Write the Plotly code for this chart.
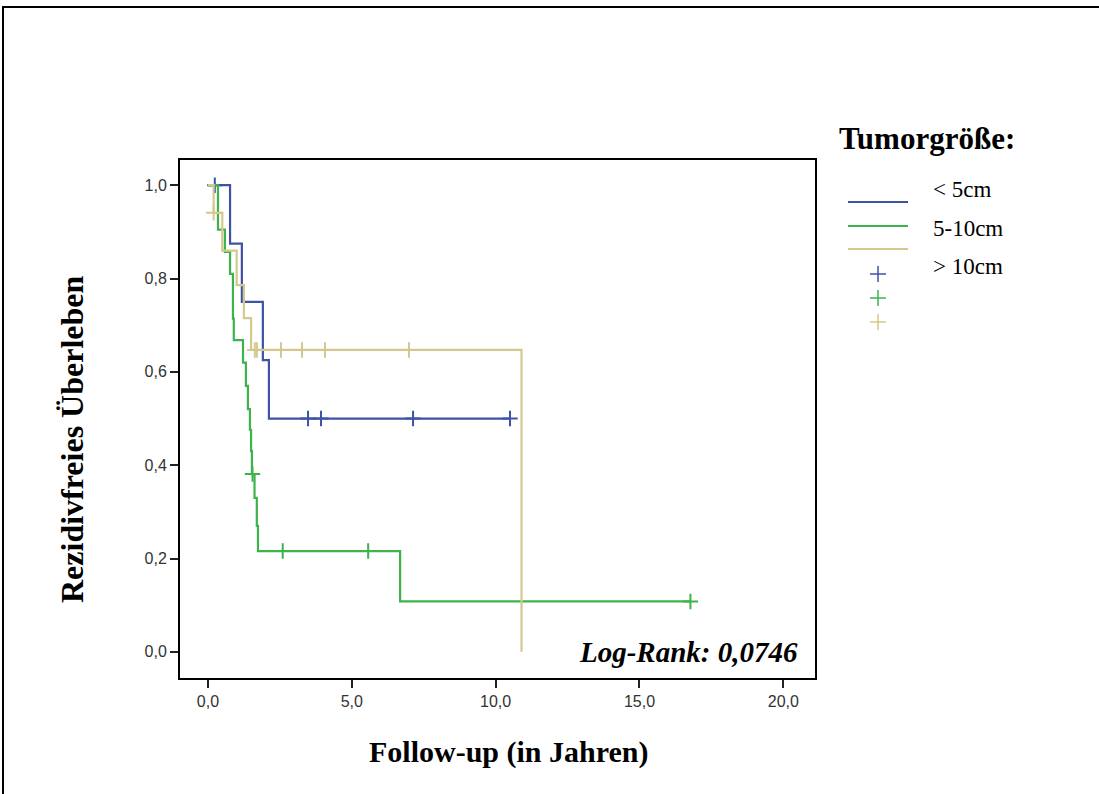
import plotly.graph_objects as go

# Kaplan-Meier estimates: event times (years) and survival level after each step
groups = ["< 5cm", "5-10cm", "> 10cm"]
colors = ["#3f52a6", "#3cb44b", "#d3c98e"]

blue_t = [0.0, 0.77, 1.18, 1.91, 2.12]
blue_s = [1.0, 0.875, 0.75, 0.625, 0.5]
blue_end = 10.5
blue_cens = [0.24, 3.48, 3.93, 7.13, 10.5]

green_t = [0.0, 0.35, 0.59, 0.77, 0.87, 0.90, 1.22, 1.32, 1.39, 1.46, 1.50,
           1.53, 1.62, 1.70, 1.74, 6.68]
green_s = [1.0, 0.905, 0.857, 0.81, 0.714, 0.668, 0.62, 0.57, 0.52, 0.476, 0.43,
           0.381, 0.33, 0.27, 0.216, 0.108]
green_end = 16.77
green_cens = [1.55, 2.6, 5.57, 16.77]

tan_t = [0.0, 0.2, 0.5, 1.0, 1.25, 1.5, 10.9]
tan_s = [1.0, 0.941, 0.86, 0.786, 0.715, 0.647, 0.0]
tan_end = 10.9
tan_cens = [0.2, 1.63, 1.7, 2.54, 3.27, 4.07, 6.99]

x_ticks = [0, 5, 10, 15, 20]
y_ticks = [0, 0.2, 0.4, 0.6, 0.8, 1.0]

series = [
    (blue_t, blue_s, blue_end, blue_cens),
    (green_t, green_s, green_end, green_cens),
    (tan_t, tan_s, tan_end, tan_cens),
]


def level_at(ts, ss, t):
    val = ss[0]
    for ti, si in zip(ts, ss):
        if ti <= t:
            val = si
    return val


fig = go.Figure()
for name, col, (ts, ss, end, cens) in zip(groups, colors, series):
    xs = list(ts)
    ys = list(ss)
    if end > xs[-1]:
        xs.append(end)
        ys.append(ys[-1])
    fig.add_trace(go.Scatter(x=xs, y=ys, mode="lines", line_shape="hv",
                             line=dict(color=col, width=2.2), name=name,
                             showlegend=False, hoverinfo="skip"))
    fig.add_trace(go.Scatter(x=cens, y=[level_at(ts, ss, c) for c in cens],
                             mode="markers",
                             marker=dict(symbol="cross-thin", size=11,
                                         line=dict(color=col, width=2)),
                             showlegend=False, hoverinfo="skip"))

L, R, T, B = 180, 815, 160, 678
W, H = 1099, 794
pw, ph = R - L, B - T


def px(x):
    return (x - L) / pw


def py(y):
    return (B - y) / ph


shapes = [
    # outer frame
    dict(type="rect", xref="paper", yref="paper", x0=px(3), x1=px(1110),
         y0=py(810), y1=py(7), line=dict(color="black", width=2)),
]
annotations = []

# legend block
leg_items = [(202, 189), (226, 228), (249, 266)]
for (ly, ty), col, name in zip(leg_items, colors, groups):
    shapes.append(dict(type="line", xref="paper", yref="paper",
                       x0=px(848), x1=px(908), y0=py(ly), y1=py(ly),
                       line=dict(color=col, width=2)))
    annotations.append(dict(x=px(931), y=py(ty), xref="paper", yref="paper",
                            text=name, showarrow=False, xanchor="left",
                            yanchor="middle",
                            font=dict(family="Liberation Serif", size=23,
                                      color="black")))
for cy, col in zip([274, 298, 322], colors):
    for (x0, x1, y0, y1) in [(870, 886, cy, cy), (878, 878, cy - 8, cy + 8)]:
        shapes.append(dict(type="line", xref="paper", yref="paper",
                           x0=px(x0), x1=px(x1), y0=py(y0), y1=py(y1),
                           line=dict(color=col, width=1.5)))

annotations += [
    dict(x=px(927), y=py(138), xref="paper", yref="paper",
         text="<b>Tumorgröße:</b>", showarrow=False, xanchor="center",
         yanchor="middle",
         font=dict(family="Liberation Serif", size=31, color="black")),
    dict(x=px(800), y=py(652), xref="paper", yref="paper",
         text="<b><i>Log-Rank: 0,0746</i></b>", showarrow=False,
         xanchor="right", yanchor="middle",
         font=dict(family="Liberation Serif", size=29, color="black")),
    dict(x=px(508), y=py(752), xref="paper", yref="paper",
         text="<b>Follow-up (in Jahren)</b>", showarrow=False,
         xanchor="center", yanchor="middle",
         font=dict(family="Liberation Serif", size=30, color="black")),
    dict(x=px(72), y=py(439), xref="paper", yref="paper",
         text="<b>Rezidivfreies Überleben</b>", showarrow=False, textangle=-90,
         xanchor="center", yanchor="middle",
         font=dict(family="Liberation Serif", size=32, color="black")),
]

fig.update_layout(
    width=W, height=H,
    margin=dict(l=L, r=W - R, t=T, b=H - B),
    paper_bgcolor="white", plot_bgcolor="white",
    separators=", ",
    shapes=shapes, annotations=annotations,
    showlegend=False,
)
axis_common = dict(showgrid=False, zeroline=False, showline=True,
                   linecolor="black", linewidth=2, mirror=True,
                   ticks="outside", ticklen=8, tickwidth=2, tickcolor="#222",
                   tickformat=".1f",
                   tickfont=dict(family="Liberation Sans", size=16,
                                 color="#333"))
fig.update_xaxes(range=[-0.97, 21.1], tickvals=x_ticks, **axis_common)
fig.update_yaxes(range=[-0.056, 1.054], tickvals=y_ticks, **axis_common)

fig.write_html("out.html")
